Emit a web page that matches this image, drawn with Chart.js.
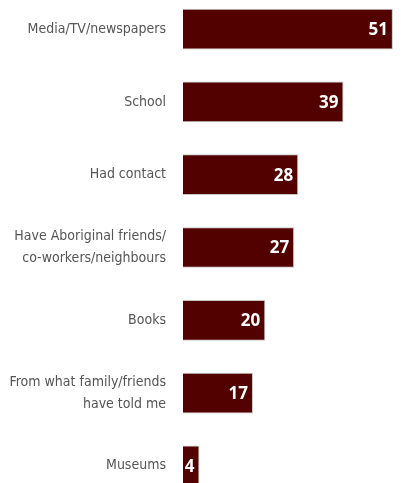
<!DOCTYPE html>
<html>
<head>
<meta charset="utf-8">
<script src="https://cdn.jsdelivr.net/npm/chart.js@4.4.1/dist/chart.umd.min.js"></script>
<style>
    html, body { margin: 0; padding: 0; background: #fff; overflow: hidden; }
    #barChart { position: absolute; left: 0; top: -35px; }
</style>
</head>
<body>
<canvas id="barChart" width="401" height="565"></canvas>
<script>
var categorias = [
    "Media/TV/newspapers",
    "School",
    "Had contact",
    ["Have Aboriginal friends/", "co-workers/neighbours"],
    "Books",
    ["From what family/friends", "have told me"],
    "Museums"
];
var valores = [51, 39, 28, 27, 20, 17, 4];

// white numbers at the end of every bar
var etiquetasValor = {
    id: "etiquetasValor",
    afterDatasetsDraw: function(chart) {
        var ctx = chart.ctx;
        var meta = chart.getDatasetMeta(0);
        ctx.save();
        ctx.fillStyle = "#ffffff";
        ctx.font = "bold 17px 'Open Sans', sans-serif";
        ctx.textAlign = "right";
        ctx.textBaseline = "middle";
        meta.data.forEach(function(bar, i) {
            ctx.fillText(valores[i], bar.x - 5, bar.y + 1);
        });
        ctx.restore();
    }
};

var ctx = document.getElementById("barChart").getContext("2d");
var barChart = new Chart(ctx, {
    type: "bar",
    data: {
        labels: categorias,
        datasets: [{
            data: valores,
            backgroundColor: "#520000",
            borderColor: "#c4c4c4",
            borderWidth: 1,
            categoryPercentage: 1,
            barPercentage: 0.56
        }]
    },
    options: {
        indexAxis: "y",
        responsive: false,
        animation: false,
        layout: { padding: { left: 0, right: 4, top: 0, bottom: 0 } },
        plugins: {
            legend: { display: false },
            tooltip: { enabled: false }
        },
        scales: {
            x: {
                display: false,
                min: 0,
                max: 52
            },
            y: {
                afterFit: function(scale) { scale.width = 183; },
                grid: { display: false, drawTicks: false },
                border: { display: false },
                ticks: {
                    color: "#555555",
                    padding: 17,
                    font: { family: "'DejaVu Sans Condensed', sans-serif", size: 14, lineHeight: 1.55 }
                }
            }
        }
    },
    plugins: [etiquetasValor]
});
</script>
</body>
</html>
